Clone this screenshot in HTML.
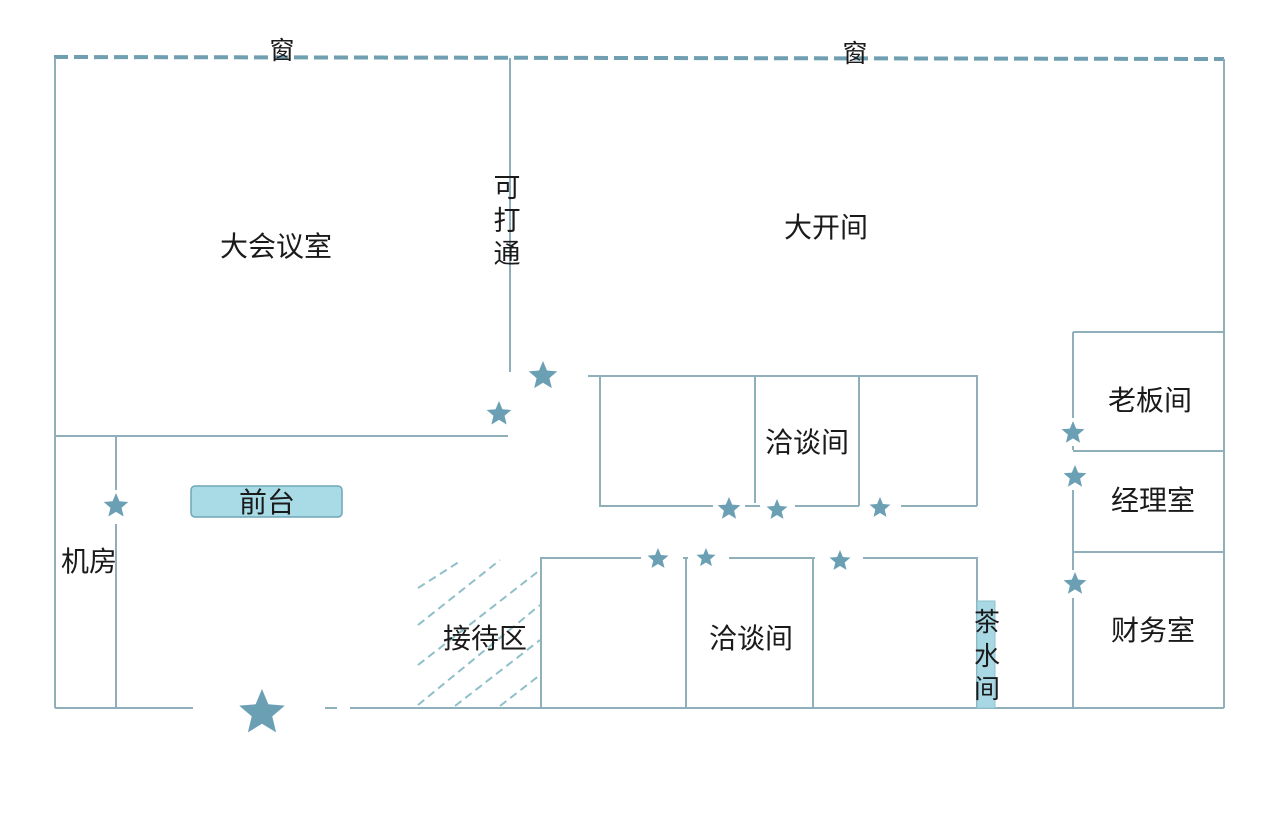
<!DOCTYPE html>
<html><head><meta charset="utf-8"><style>
html,body{margin:0;padding:0;background:#fff;}
svg{display:block;}
text{font-family:"Liberation Sans","Noto Sans CJK SC",sans-serif;fill:#1a1a1a;}
</style></head><body>
<svg width="1280" height="818" viewBox="0 0 1280 818" xmlns="http://www.w3.org/2000/svg">
<defs>
<polygon id="s" points="0,-1 0.264,-0.364 0.951,-0.309 0.427,0.139 0.588,0.809 0,0.45 -0.588,0.809 -0.427,0.139 -0.951,-0.309 -0.264,-0.364" fill="#6a9fb4"/>
</defs>
<line x1="54" y1="57" x2="1224" y2="59" stroke="#6f9fb0" stroke-width="4" stroke-dasharray="14,6"/>
<g stroke="#8fb0ba" stroke-width="2" fill="none">
<line x1="55" y1="58" x2="55" y2="708"/>
<line x1="1224" y1="59" x2="1224" y2="708"/>
<line x1="510" y1="58" x2="510" y2="372"/>
<line x1="55" y1="436" x2="508" y2="436"/>
<line x1="116" y1="436" x2="116" y2="490"/>
<line x1="116" y1="524" x2="116" y2="708"/>
<path d="M55 708H193M325 708H337M350 708H1224"/>
<path d="M588 376H977V506M600 376V506H713M755 376V503M745 506H760M795 506H859M859 376V506M901 506H977"/>
<path d="M541 708V558H641M683 558H688M686 558V708M729 558H815M813 558V708M863 558H977V708"/>
<path d="M1073 332H1224M1073 451H1224M1073 552H1224"/>
<path d="M1073 332V418M1073 446V450M1073 490V570M1073 598V708"/>
</g>
<g stroke="#8fbfc9" stroke-width="2" stroke-dasharray="8,5" fill="none">
<line x1="418" y1="588" x2="462" y2="560"/>
<line x1="418" y1="625" x2="500" y2="560"/>
<line x1="418" y1="665" x2="540" y2="570"/>
<line x1="418" y1="705" x2="540" y2="605"/>
<line x1="455" y1="706" x2="540" y2="640"/>
<line x1="500" y1="706" x2="540" y2="675"/>
</g>
<rect x="977" y="601" width="18" height="107" fill="#a8d8e3" stroke="#8fc0cc" stroke-width="1"/>
<rect x="191" y="486" width="151" height="31" rx="4" fill="#a9dbe6" stroke="#6fa7b6" stroke-width="1.5"/>
<g>
<use href="#s" transform="translate(543,376) scale(15)"/>
<use href="#s" transform="translate(499,414) scale(13)"/>
<use href="#s" transform="translate(116,506) scale(13)"/>
<use href="#s" transform="translate(262,713) scale(24)"/>
<use href="#s" transform="translate(729,509) scale(12)"/>
<use href="#s" transform="translate(777,510) scale(11)"/>
<use href="#s" transform="translate(880,508) scale(11)"/>
<use href="#s" transform="translate(658,559) scale(11)"/>
<use href="#s" transform="translate(706,558) scale(10)"/>
<use href="#s" transform="translate(840,561) scale(11)"/>
<use href="#s" transform="translate(1073,433) scale(12)"/>
<use href="#s" transform="translate(1075,477) scale(12)"/>
<use href="#s" transform="translate(1075,584) scale(12)"/>
</g>
<g font-size="28" text-anchor="middle">
<text x="282" y="59" font-size="25">窗</text>
<text x="855" y="62" font-size="25">窗</text>
<text x="276" y="256">大会议室</text>
<text x="507" y="197" font-size="27">可</text>
<text x="507" y="230" font-size="27">打</text>
<text x="507" y="263" font-size="27">通</text>
<text x="826" y="237">大开间</text>
<text x="807" y="452">洽谈间</text>
<text x="751" y="648">洽谈间</text>
<text x="1150" y="410">老板间</text>
<text x="1153" y="510">经理室</text>
<text x="1153" y="640">财务室</text>
<text x="89" y="571">机房</text>
<text x="267" y="512">前台</text>
<text x="485" y="648">接待区</text>
<text x="987" y="631" font-size="26">茶</text>
<text x="987" y="665" font-size="26">水</text>
<text x="987" y="698" font-size="26">间</text>
</g>
</svg>
</body></html>
